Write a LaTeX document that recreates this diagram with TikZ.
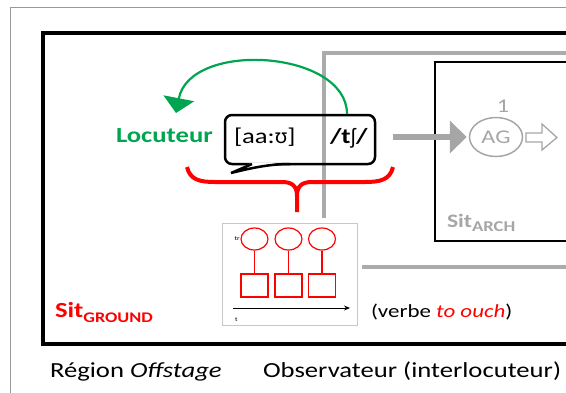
\documentclass[tikz,border=0pt]{standalone}
\usepackage{fontspec}
\setmainfont{Carlito}[FakeStretch=1.24]
\newfontfamily\ipafont{Noto Sans}[FakeStretch=1.05,Scale=0.92]
\usetikzlibrary{arrows.meta,shapes.geometric}
\definecolor{mygreen}{HTML}{00A550}
\definecolor{mygray}{HTML}{A6A6A6}
\definecolor{obsgray}{HTML}{ABABAB}
\definecolor{boxgray}{HTML}{C8C8C8}
\definecolor{framegray}{HTML}{999999}
\tikzset{
  lbl/.style={anchor=base west, inner sep=0pt, outer sep=0pt},
  circ/.style={ellipse, draw=red, line width=1.2pt, minimum width=27pt, minimum height=22pt, inner sep=0pt},
  sq/.style={draw=red, line width=1.2pt, minimum width=27pt, minimum height=23pt, inner sep=0pt},
  stem/.style={draw=red, line width=1.2pt},
  brace/.style={draw=red, line width=4pt},
}
\begin{document}
\begin{tikzpicture}[x=1pt,y=-1pt]
\useasboundingbox (0,0) rectangle (566,392);
\clip (0,0) rectangle (566,392);
% outer frame
\draw[framegray, line width=0.8pt] (10,400) -- (10,7) -- (600,7);
% Sit ground frame
\draw[line width=3.8pt] (43,33) rectangle (600,344);
% observer frame
\draw[obsgray, line width=3.5pt] (324,267) rectangle (600,53);
% Sit arch frame
\draw[line width=2pt] (435,62) rectangle (600,241);
% white margin around the small box
\fill[white] (217,218) rectangle (362,330);
% small box
\node[draw=boxgray, fill=white, line width=0.8pt, minimum width=135pt, minimum height=102pt, anchor=north west, inner sep=0pt] (vbox) at (222,223) {};
\node[circ] (c1) at (254.5,239) {};
\node[circ] (c2) at (288.5,239) {};
\node[circ] (c3) at (322,239) {};
\node[sq] (s1) at (254.5,285.5) {};
\node[sq] (s2) at (288.5,285.5) {};
\node[sq] (s3) at (322,285.5) {};
\draw[stem] (c1.south) -- (s1.north);
\draw[stem] (c2.south) -- (s2.north);
\draw[stem] (c3.south) -- (s3.north);
\coordinate (tstart) at (233,308);
\coordinate (tend) at (350,308);
\draw[-{Stealth[length=6pt,width=5pt]}, line width=0.9pt] (tstart) -- (tend);
\node[anchor=east, inner sep=0.5pt, font=\fontsize{6}{7}\selectfont] (tr) at (c1.west) {tr};
\node[lbl, font=\fontsize{6}{7}\selectfont] (tlab) at (235,321) {t};
% speech bubble
\draw[line width=2.5pt, rounded corners=7pt] (225,115) rectangle (375,164);
\fill[white] (252,162.6) -- (231,173) .. controls (255,167) and (272,162.6) .. (290,162.6) -- cycle;
\draw[line width=2.5pt, line join=miter] (252,164) -- (231,173) .. controls (255,167) and (272,164) .. (290,164);
% texts in bubble and speaker
\node[lbl, text=mygreen, font=\fontsize{21.5}{24}\selectfont\bfseries] (loc) at (116,142) {Locuteur};
\node[lbl, font=\fontsize{21.5}{24}\selectfont] (phon) at (234,143) {[aa:{\ipafont ʊ}]};
\node[lbl, font=\fontsize{21.5}{24}\selectfont\bfseries] (tsh) at (330,143) {/t{\ipafont\bfseries ʃ}/};
% green arrow
\coordinate (gstart) at (347,114);
\coordinate (gend) at (176,113);
\draw[mygreen, line width=2.2pt, -{Triangle[width=31pt,length=15pt]}] (gstart) .. controls (347,50) and (190,40) .. (gend);
% red brace
\draw[brace] (187,167) .. controls (190,180) and (200,182) .. (215,182) -- (282,182) .. controls (292,182) and (297,186) .. (297,196) -- (297,212);
\draw[brace] (393,167) .. controls (390,180) and (380,182) .. (365,182) -- (312,182) .. controls (302,182) and (297,186) .. (297,196);
% AG
\node[ellipse, draw=mygray, line width=1.5pt, minimum width=53pt, minimum height=39pt, inner sep=0pt, text=mygray, font=\fontsize{19.5}{22}\selectfont] (AG) at (496,137) {AG};
\node[anchor=base, inner sep=0pt, text=mygray, font=\fontsize{19.5}{22}\selectfont] (one) at (503,112) {1};
\coordinate (astart) at (393,137);
\draw[mygray, line width=5.5pt, -{Triangle[width=32pt,length=17pt]}] (astart) -- ([xshift=-2pt]AG.west);
\draw[mygray, line width=1.3pt, line join=miter] (526,133) -- (542,133) -- (542,124) -- (557,137.5) -- (542,150) -- (542,142) -- (526,142) -- cycle;
% labels
\node[lbl, text=red, font=\bfseries\fontsize{21.5}{24}\selectfont] (sg) at (55,317) {Sit\raisebox{-5pt}{\fontsize{14.7}{16}\selectfont GROUND}};
\node[lbl, text=mygray, font=\bfseries\fontsize{19}{22}\selectfont] (sa) at (447,227) {Sit\raisebox{-4.5pt}{\fontsize{15}{16}\selectfont ARCH}};
\node[lbl, font=\fontsize{18.5}{21}\selectfont] (vb) at (371,317) {(verbe \textcolor{red}{\itshape to ouch})};
\node[lbl, font=\fontsize{21.5}{24}\selectfont] (reg) at (50,377) {Région \textit{Offstage}};
\node[lbl, font=\fontsize{21.5}{24}\selectfont] (obs) at (263,377) {Observateur (interlocuteur)};
\end{tikzpicture}
\end{document}
